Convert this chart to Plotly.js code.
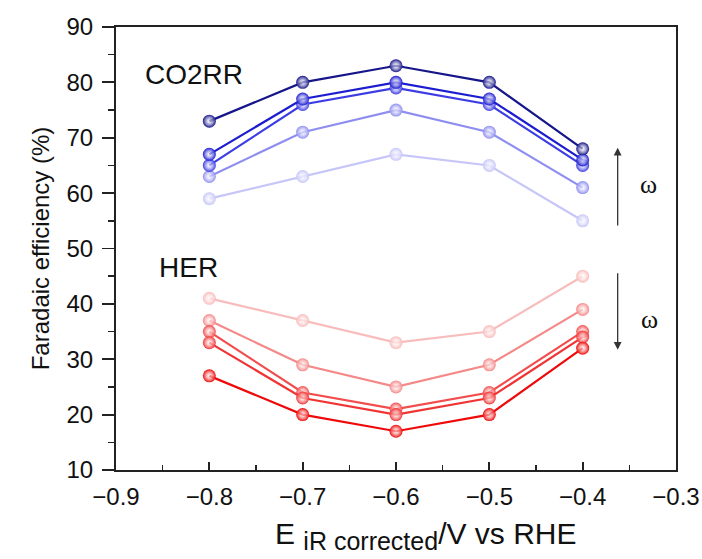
<!DOCTYPE html>
<html>
<head>
<meta charset="utf-8">
<script src="https://cdn.plot.ly/plotly-3.0.1.min.js"></script>
<style>html,body{margin:0;padding:0;background:#fff;}#chart{width:702px;height:559px;}</style>
</head>
<body>
<div id="chart"></div>
<script>
const potentials = [-0.8, -0.7, -0.6, -0.5, -0.4];

const co2rr1 = [73, 80, 83, 80, 68];
const co2rr2 = [67, 77, 80, 77, 66];
const co2rr3 = [65, 76, 79, 76, 65];
const co2rr4 = [63, 71, 75, 71, 61];
const co2rr5 = [59, 63, 67, 65, 55];

const her1 = [27, 20, 17, 20, 32];
const her2 = [33, 23, 20, 23, 34];
const her3 = [35, 24, 21, 24, 35];
const her4 = [37, 29, 25, 29, 39];
const her5 = [41, 37, 33, 35, 45];

const co2Series = [co2rr1, co2rr2, co2rr3, co2rr4, co2rr5];
const herSeries = [her1, her2, her3, her4, her5];
const co2Colors = ['#16168a', '#1c1cd0', '#3c3ce4', '#8e8ef0', '#c6c6f8'];
const herColors = ['#ee0a0a', '#f03434', '#f24c4c', '#f58888', '#f8bcbc'];

function mk(ys, color) {
  return {
    x: potentials, y: ys, type: 'scatter', mode: 'lines+markers',
    line: {color: color, width: 2.2},
    marker: {size: 13, color: color, gradient: {type: 'radial', color: 'rgba(255,255,255,0.55)'},
             line: {width: 0}},
    hoverinfo: 'skip', showlegend: false
  };
}
const traces = [];
for (let i = co2Series.length - 1; i >= 0; i--) traces.push(mk(co2Series[i], co2Colors[i]));
for (let i = herSeries.length - 1; i >= 0; i--) traces.push(mk(herSeries[i], herColors[i]));

const fontFam = '"Liberation Sans", Arial, sans-serif';
const layout = {
  width: 702, height: 559,
  margin: {l: 116, r: 26, t: 27, b: 89},
  paper_bgcolor: '#fff', plot_bgcolor: '#fff',
  font: {family: fontFam, color: '#111', size: 23},
  xaxis: {
    range: [-0.9, -0.3], dtick: 0.1, tick0: -0.9, tickformat: '.1f',
    ticks: 'inside', ticklen: 8, tickwidth: 1.8, tickcolor: '#222',
    minor: {dtick: 0.05, ticks: 'inside', ticklen: 5, tickwidth: 1.5, tickcolor: '#222'},
    showline: true, linewidth: 2, linecolor: '#222', mirror: true,
    showgrid: false, zeroline: false,
    tickfont: {size: 24, family: fontFam},
    ticklabelstandoff: 4
  },
  yaxis: {
    range: [10, 90], dtick: 10, tick0: 10,
    ticks: 'outside', ticklen: 12, tickwidth: 1.8, tickcolor: '#222',
    minor: {dtick: 5, ticks: 'outside', ticklen: 6, tickwidth: 1.5, tickcolor: '#222'},
    showline: true, linewidth: 2, linecolor: '#222', mirror: true,
    showgrid: false, zeroline: false,
    tickfont: {size: 24, family: fontFam},
    ticklabelstandoff: 4,
    title: {text: 'Faradaic efficiency (%)', font: {size: 24, family: fontFam}, standoff: 10}
  },
  annotations: [
    {x: 0.552, y: -0.148, xref: 'paper', yref: 'paper', xanchor: 'center', yanchor: 'middle',
     text: 'E <sub><span style="font-size:25px">iR corrected</span></sub>/V vs RHE', showarrow: false,
     font: {size: 30, family: fontFam, color: '#111'}},
    {x: -0.871, y: 81.5, xref: 'x', yref: 'y', text: 'CO2RR', showarrow: false, xanchor: 'left', font: {size: 28, family: fontFam, color: '#111'}},
    {x: -0.856, y: 46.5, xref: 'x', yref: 'y', text: 'HER', showarrow: false, xanchor: 'left', font: {size: 28, family: fontFam, color: '#111'}},
    {x: -0.3625, y: 68.2, ax: -0.3625, ay: 53.9, xref: 'x', yref: 'y', axref: 'x', ayref: 'y', text: '', showarrow: true, arrowhead: 2, arrowsize: 1.2, arrowwidth: 1.3, arrowcolor: '#333'},
    {x: -0.3625, y: 31.7, ax: -0.3625, ay: 45.8, xref: 'x', yref: 'y', axref: 'x', ayref: 'y', text: '', showarrow: true, arrowhead: 2, arrowsize: 1.2, arrowwidth: 1.3, arrowcolor: '#333'},
    {x: -0.330, y: 61.5, xref: 'x', yref: 'y', text: 'ω', showarrow: false, font: {size: 26, family: '"Liberation Serif", serif', color: '#111'}},
    {x: -0.328, y: 37.1, xref: 'x', yref: 'y', text: 'ω', showarrow: false, font: {size: 26, family: '"Liberation Serif", serif', color: '#111'}}
  ]
};
Plotly.newPlot('chart', traces, layout, {displayModeBar: false, staticPlot: true});
</script>
</body>
</html>
